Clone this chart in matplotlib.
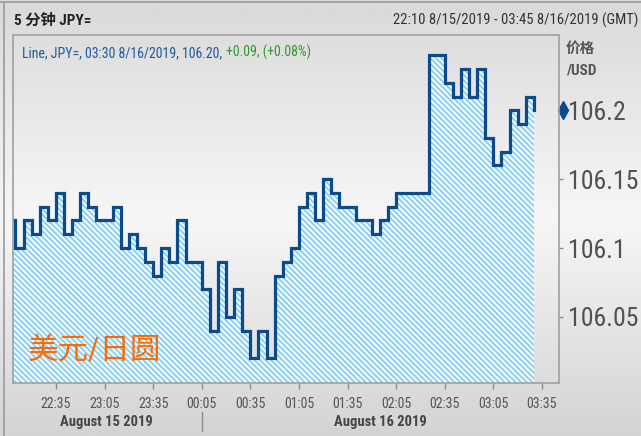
import numpy as np
import pandas as pd
import matplotlib
matplotlib.use('Agg')
import matplotlib.pyplot as plt
import matplotlib.dates as mdates
from matplotlib import font_manager as fm
from matplotlib.transforms import blended_transform_factory
from matplotlib.lines import Line2D

# ---------- data: USD/JPY 5-minute closes, 22:05 15 Aug -> 03:30 16 Aug 2019 ----------
times = pd.date_range('2019-08-15 22:05', '2019-08-16 03:30', freq='5min')
prices = [106.12,
          106.10, 106.12, 106.11, 106.13, 106.12, 106.14, 106.11, 106.12, 106.14, 106.13,
          106.12, 106.12, 106.13, 106.10, 106.11, 106.10, 106.09, 106.08, 106.10, 106.09,
          106.12, 106.09, 106.09, 106.07, 106.04, 106.09, 106.05, 106.07, 106.04, 106.02,
          106.04, 106.02, 106.08, 106.09, 106.10, 106.13, 106.14, 106.12, 106.15, 106.14,
          106.13, 106.13, 106.12, 106.12, 106.11, 106.12, 106.13, 106.14, 106.14, 106.14,
          106.14, 106.24, 106.24, 106.22, 106.21, 106.23, 106.21, 106.23, 106.18, 106.16,
          106.17, 106.20, 106.19, 106.21, 106.20]
last_price = 106.20

x_ticks = pd.date_range('2019-08-15 22:35', '2019-08-16 03:35', freq='30min')
x_ticklabels = ['22:35', '23:05', '23:35', '00:05', '00:35', '01:05',
                '01:35', '02:05', '02:35', '03:05', '03:35']
y_ticks = [106.05, 106.1, 106.15, 106.2]
y_ticklabels = ['106.05', '106.1', '106.15', '106.2']
day_labels = ['August 15 2019', 'August 16 2019']

title_left = '5 分钟 JPY='
title_right = '22:10 8/15/2019 - 03:45 8/16/2019 (GMT)'
legend_blue = 'Line, JPY=, 03:30 8/16/2019, 106.20, '
legend_green = '+0.09, (+0.08%)'
watermark = '美元/日圆'

# ---------- fonts: prefer a condensed face ----------
def have_font(name):
    try:
        fm.findfont(fm.FontProperties(family=name), fallback_to_default=False)
        return True
    except ValueError:
        return False

base = 'Liberation Sans'
for name in ['Roboto Condensed', 'Liberation Sans Narrow', 'Noto Sans Condensed']:
    if have_font(name):
        base = name
        break

plt.rcParams['font.family'] = [base, 'Noto Sans CJK SC', 'DejaVu Sans']
plt.rcParams['hatch.linewidth'] = 1.4
fs_y, fs_x, fs_head, fs_leg, fs_day = 18.5, 10, 10.5, 10, 10.5

W, H = 641, 436
fig = plt.figure(figsize=(W / 100, H / 100), dpi=100)

# grey gradient background
bg = fig.add_axes([0, 0, 1, 1], zorder=-10)
rows = np.interp(np.linspace(0, 1, 200), [0, 0.5, 1], [0.85, 0.965, 0.83])
bg.imshow(np.tile(rows[:, None], (1, 2)), aspect='auto', cmap='gray', vmin=0, vmax=1,
          extent=(0, 1, 0, 1), interpolation='bicubic')
bg.axis('off')

# plot area
left, right = 12.7 / W, 559.3 / W
bottom, top = 1 - 382.7 / H, 1 - 35 / H
ax = fig.add_axes([left, bottom, right - left, top - bottom])
ax.set_facecolor('none')

line_col = '#0b4a8b'
ax.fill_between(times, prices, 105.9, step='post', facecolor='#fbfdff',
                edgecolor='#88d0f4', hatch='\\\\\\\\\\\\', linewidth=0)
ax.plot(times, prices, drawstyle='steps-post', color=line_col, lw=2.3,
        solid_joinstyle='miter')

ax.set_xlim(pd.Timestamp('2019-08-15 22:08:18'), pd.Timestamp('2019-08-16 03:45:42'))
ax.set_ylim(106.0022, 106.2547)

ax.set_xticks(x_ticks)
ax.set_xticklabels(x_ticklabels)
ax.set_yticks(y_ticks)
ax.set_yticklabels(y_ticklabels)
ax.yaxis.tick_right()
ax.tick_params(axis='x', direction='out', length=4, width=1, color='#8c8c8c',
               pad=6, labelsize=fs_x, labelcolor='#555555')
ax.tick_params(axis='y', direction='out', length=3, width=1, color='#8c8c8c',
               pad=3.5, labelsize=fs_y, labelcolor='#505050')
for s in ax.spines.values():
    s.set_color('#a0a0a0')
    s.set_linewidth(1.2)

# marker for the last price
trans_y = blended_transform_factory(ax.transAxes, ax.transData)
ax.plot([1.0068], [last_price], marker='d', ms=9, color=line_col,
        transform=trans_y, clip_on=False)

# day labels under the time axis
trans_x = blended_transform_factory(ax.transData, ax.transAxes)
day_centers = [pd.Timestamp('2019-08-15 23:06'), pd.Timestamp('2019-08-16 01:55')]
for c, lab in zip(day_centers, day_labels):
    ax.text(c, -0.112, lab, transform=trans_x, ha='center', va='center',
            fontsize=fs_day, fontweight='bold', color='#454545')
split = mdates.date2num(pd.Timestamp('2019-08-16 00:05'))
ax.plot([split, split], [-0.083, -0.138], transform=trans_x, color='#8c8c8c',
        lw=1, clip_on=False)

# titles and axis label
fig.text(14 / W, 1 - 20.7 / H, title_left, ha='left', va='center',
         fontsize=11, fontweight='bold', color='#222222')
fig.text(638 / W, 1 - 20.7 / H, title_right, ha='right', va='center',
         fontsize=fs_head, color='#333333')
fig.text(566 / W, 1 - 48.5 / H, '价格', ha='left', va='center',
         fontsize=10.5, fontweight='bold', color='#555555')
fig.text(566 / W, 1 - 70.5 / H, '/USD', ha='left', va='center',
         fontsize=11, fontweight='bold', color='#555555')

# legend line inside the plot
t1 = ax.text((22.5 - 12.7) / (559.3 - 12.7), (382.7 - 53.3) / (382.7 - 35), legend_blue,
             transform=ax.transAxes, fontsize=fs_leg, color='#1d5b9a',
             ha='left', va='center')
ax.annotate(legend_green, xy=(1, 0), xycoords=t1, va='bottom', ha='left',
            fontsize=fs_leg, color='#2e982e')

ax.text(0.028, 0.094, watermark, transform=ax.transAxes, ha='left', va='center',
        fontsize=22, color='#ff6a00')

# outer frame
fig.add_artist(Line2D([0, 1], [1 - 2 / H, 1 - 2 / H], color='#9a9a9a', lw=1.2))
fig.add_artist(Line2D([4 / W, 4 / W], [0, 1 - 2 / H], color='#9a9a9a', lw=1.2))

fig.savefig('out.png', dpi=100)
